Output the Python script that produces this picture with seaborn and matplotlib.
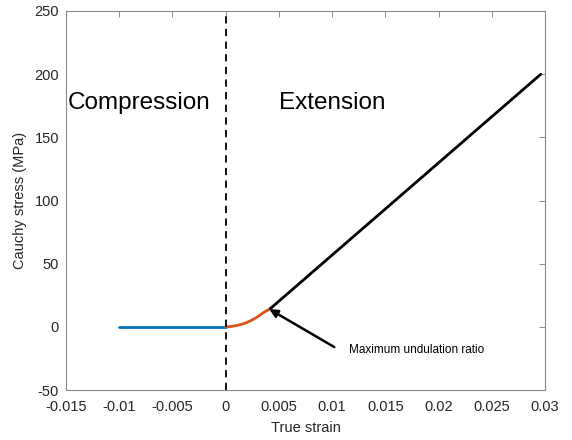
import matplotlib
matplotlib.use("Agg")
import matplotlib.pyplot as plt
import seaborn as sns
import pandas as pd

# Data
comp_strain = [-0.01, 0.0]
comp_stress = [0.0, 0.0]

toe_strain = [0.0, 0.0005, 0.001, 0.0015, 0.002, 0.0025, 0.003, 0.0035, 0.0042]
toe_stress = [0.0, 0.3, 1.0, 2.0, 3.5, 5.5, 8.0, 11.0, 14.5]

lin_strain = [0.0042, 0.0296]
lin_stress = [14.5, 200.0]

xticks = [-0.015, -0.01, -0.005, 0, 0.005, 0.01, 0.015, 0.02, 0.025, 0.03]
xtick_labels = ["-0.015", "-0.01", "-0.005", "0", "0.005", "0.01", "0.015", "0.02", "0.025", "0.03"]
yticks = [-50, 0, 50, 100, 150, 200, 250]
ytick_labels = ["-50", "0", "50", "100", "150", "200", "250"]

sns.set_style("white")
plt.rcParams['font.family'] = ['Liberation Sans', 'DejaVu Sans']
plt.rcParams['axes.unicode_minus'] = False

fig = plt.figure(figsize=(5.72, 4.4), dpi=100)
ax = fig.add_axes([0.1154, 0.1136, 0.8376, 0.8614])

df_c = pd.DataFrame({"x": comp_strain, "y": comp_stress})
df_t = pd.DataFrame({"x": toe_strain, "y": toe_stress})
df_l = pd.DataFrame({"x": lin_strain, "y": lin_stress})

sns.lineplot(data=df_c, x="x", y="y", ax=ax, color="#0072BD", linewidth=2.0, sort=False)
sns.lineplot(data=df_t, x="x", y="y", ax=ax, color="#D95319", linewidth=2.0, sort=False)
sns.lineplot(data=df_l, x="x", y="y", ax=ax, color="black", linewidth=2.0, sort=False)

ax.axvline(0, color="black", linestyle=(0, (4, 3)), linewidth=1.3)

ax.set_xlim(-0.015, 0.03)
ax.set_ylim(-50, 250)
ax.set_xticks(xticks)
ax.set_xticklabels(xtick_labels)
ax.set_yticks(yticks)
ax.set_yticklabels(ytick_labels)
ax.tick_params(direction="in", length=4, width=0.6, color="#777777",
               labelsize=10.5, labelcolor="#262626", top=True, right=True)
ax.tick_params(axis="x", pad=7)
ax.tick_params(axis="y", pad=5)
for s in ax.spines.values():
    s.set_color("#888888")
    s.set_linewidth(0.8)
    s.set_visible(True)

ax.set_xlabel("True strain", fontsize=10.5, color="#262626", labelpad=5)
ax.set_ylabel("Cauchy stress (MPa)", fontsize=10.5, color="#262626", labelpad=5)

ax.text(-0.0148, 177, "Compression", fontsize=17.5, va="center", ha="left", color="black")
ax.text(0.005, 177, "Extension", fontsize=17.5, va="center", ha="left", color="black")

ax.annotate("", xy=(0.0041, 14), xytext=(0.0102, -16),
            arrowprops=dict(arrowstyle="-|>", color="black", lw=1.8,
                            mutation_scale=12, shrinkA=0, shrinkB=0))
ax.text(0.0116, -18, "Maximum undulation ratio", fontsize=8.5, va="center", ha="left", color="black")

fig.savefig("out.png", dpi=100)
